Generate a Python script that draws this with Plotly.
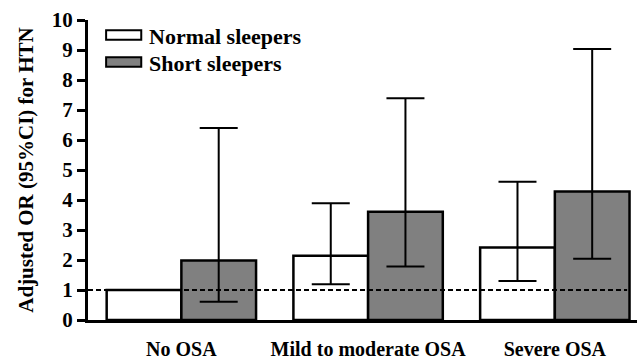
import plotly.graph_objects as go

categories = ["No OSA", "Mild to moderate OSA", "Severe OSA"]
normal_or = [1.0, 2.14, 2.42]
normal_lo = [1.0, 1.19, 1.30]
normal_hi = [1.0, 3.89, 4.61]
short_or = [1.98, 3.61, 4.28]
short_lo = [0.61, 1.78, 2.04]
short_hi = [6.40, 7.39, 9.03]
ref_line = 1.0
y_ticks = list(range(0, 11))

FONT = "Liberation Serif"

def err(vals, lo, hi):
    return dict(type="data", symmetric=False,
                array=[h - v for v, h in zip(vals, hi)],
                arrayminus=[v - l for v, l in zip(vals, lo)],
                color="black", thickness=2, width=19)

fig = go.Figure()
fig.add_trace(go.Bar(x=categories, y=normal_or, name="Normal sleepers",
                     marker=dict(color="white", line=dict(color="black", width=2.5)),
                     error_y=err(normal_or, normal_lo, normal_hi),
                     showlegend=False))
fig.add_trace(go.Bar(x=categories, y=short_or, name="Short sleepers",
                     marker=dict(color="#808080", line=dict(color="black", width=2.5)),
                     error_y=err(short_or, short_lo, short_hi),
                     showlegend=False))

fig.add_shape(type="line", xref="paper", yref="y", x0=0, x1=0.982, y0=ref_line, y1=ref_line,
              line=dict(color="black", width=2, dash="5px,3px"), layer="above")

# custom legend
legend_items = [("Normal sleepers", "white"), ("Short sleepers", "#808080")]
for i, (lab, col) in enumerate(legend_items):
    yc = 0.95 - i * 0.09
    fig.add_shape(type="rect", xref="paper", yref="paper",
                  x0=0.033, x1=0.097, y0=yc - 0.016, y1=yc + 0.016,
                  fillcolor=col, line=dict(color="black", width=2))
    fig.add_annotation(xref="paper", yref="paper", x=0.108, y=yc - 0.004, text=lab,
                       showarrow=False, xanchor="left", yanchor="middle",
                       font=dict(family=FONT, size=22, color="black", weight="bold"))

fig.update_layout(
    width=637, height=359,
    margin=dict(l=88, r=0, t=20, b=39, autoexpand=False),
    paper_bgcolor="white", plot_bgcolor="white",
    barmode="group", bargap=0.2, bargroupgap=0,
    font=dict(family=FONT, color="black"),
)
fig.update_xaxes(range=[-0.5, 2.44], showline=True, linewidth=3, linecolor="black",
                 ticks="", showgrid=False, zeroline=False, ticklabelstandoff=9,
                 automargin=False,
                 tickfont=dict(family=FONT, size=20, color="black", weight="bold"))
fig.update_yaxes(range=[0, 10], tickvals=y_ticks, showline=True, linewidth=3,
                 linecolor="black", ticks="outside", ticklen=8, tickwidth=2.5,
                 tickcolor="black", showgrid=False, zeroline=False, automargin=False,
                 tickfont=dict(family=FONT, size=21, color="black", weight="bold"),
                 title=dict(text="Adjusted OR (95%CI) for HTN", standoff=13,
                            font=dict(family=FONT, size=21, color="black", weight="bold")))

fig.write_html("out.html", config={"displayModeBar": False},
               post_script="document.body.style.margin='0px';")
